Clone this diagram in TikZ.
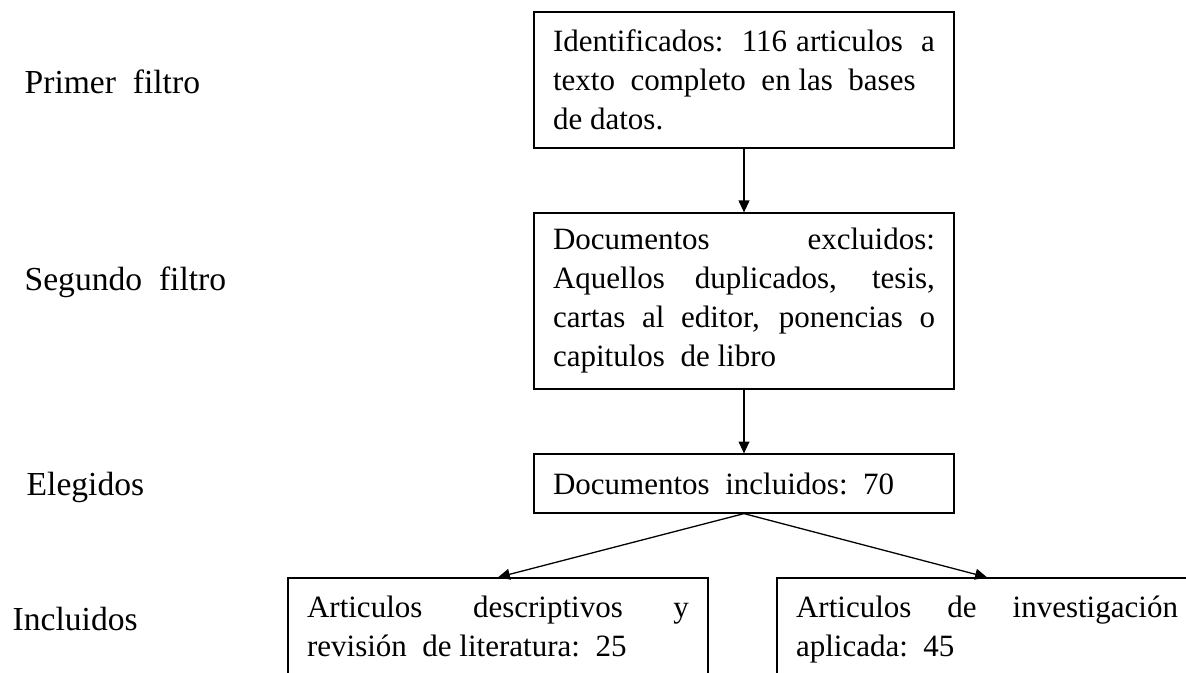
\documentclass[tikz,border=0pt]{standalone}
\usepackage{fontspec}
\setmainfont{Liberation Serif}
\usetikzlibrary{arrows.meta}

\begin{document}
\begin{tikzpicture}[->,>={Triangle[length=4.6pt,width=4.2pt]},x=0.387pt,y=-0.387pt,line width=0.5pt]
	\tikzstyle{caja} = [rectangle,draw,align=justify,text width=147.8pt,inner xsep=7.35pt,inner ysep=0pt,font=\fontsize{12}{15.1}\selectfont]
	\tikzstyle{etapa} = [anchor=west,inner sep=0pt,font=\fontsize{13}{15}\selectfont]
	
	\useasboundingbox (0,0) rectangle (1186,672);
	\clip (0,0) rectangle (1186,672);
	
	\node[etapa] (primer) at (24,82) {Primer\ \ filtro};
	\node[etapa] (segundo) at (24,282) {Segundo\ \ filtro};
	\node[etapa] (elegidos) at (26,487) {Elegidos};
	\node[etapa] (incluidos) at (12,619) {Incluidos};
	
	\node[caja,minimum height=52.6pt] (ident) at (744,80) {Identificados:\ \ 116 articulos\ \ a\linebreak texto\ \ completo\ \ en las\ \ bases\\ de datos.};
	\node[caja,minimum height=68.1pt] (excl) at (744,301) {Documentos excluidos:\linebreak Aquellos duplicados, tesis,\linebreak cartas al editor, ponencias o\linebreak capitulos\ \ de libro};
	\node[caja,minimum height=22.8pt] (incl) at (744,483.5) {Documentos\ \ incluidos:\ \ 70};
	
	\node[caja,minimum height=39.9pt] (desc) at (498,629.5) {\strut Articulos descriptivos y\linebreak revisión\ \ de literatura:\ \ 25\strut};
	\node[caja,minimum height=39.9pt] (aplic) at (987,629.5) {\strut Articulos de investigación\linebreak aplicada:\ \ 45\strut};
	
	\path (ident) edge (excl);
	\path (excl) edge (incl);
	\path (incl.south) edge (desc.north);
	\path (incl.south) edge (aplic.north);
\end{tikzpicture}
\end{document}
